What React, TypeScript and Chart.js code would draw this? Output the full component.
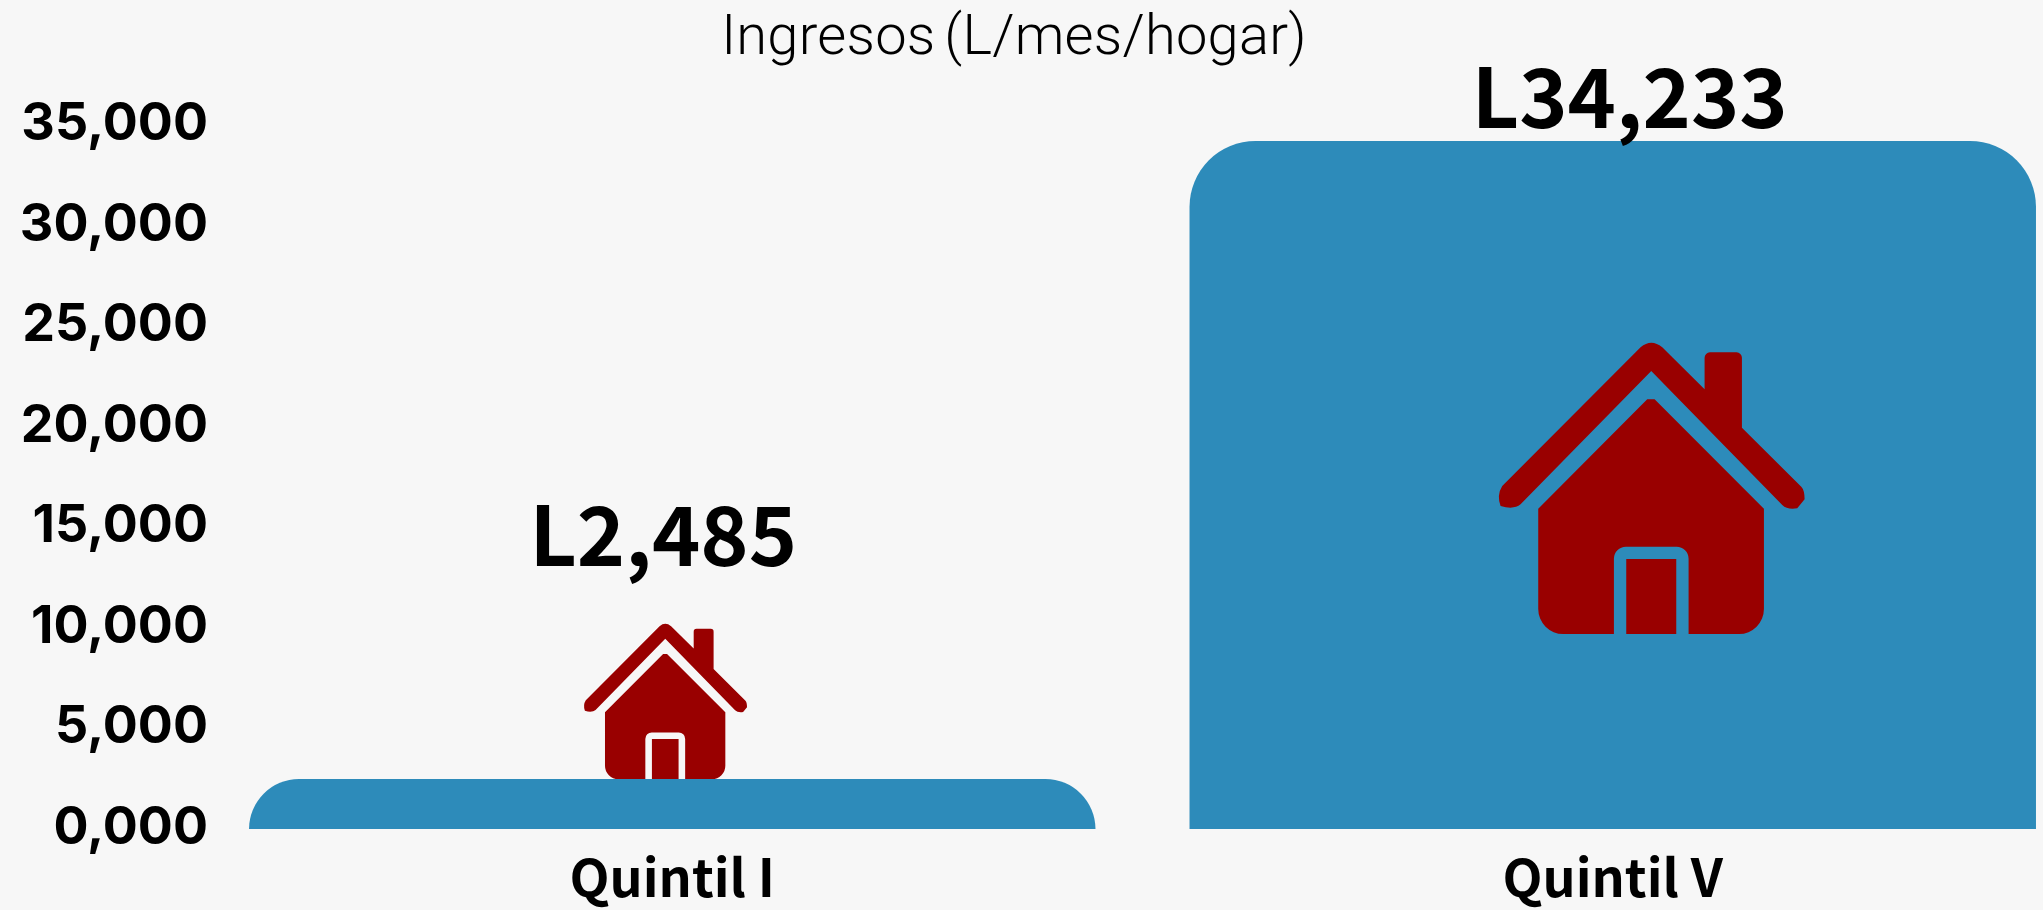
import React, { useEffect, useRef } from "react";
import { Chart, registerables } from "chart.js";

Chart.register(...registerables);

const categories = ["Quintil I", "Quintil V"];
const incomes = [2485, 34233];
const valueLabels = ["L2,485", "L34,233"];
const tickValues = [0, 5000, 10000, 15000, 20000, 25000, 30000, 35000];
const tickLabels = ["0,000", "5,000", "10,000", "15,000", "20,000", "25,000", "30,000", "35,000"];
const chartTitle = "Ingresos (L/mes/hogar)";

const BG = "#f7f7f7";
const BLUE = "#2d8bba";
const RED = "#990000";
const LABEL_FONT = '"Noto Sans CJK SC", "Noto Sans", sans-serif';

// house shape in its own design units, origin at the centre of the bottom edge
const HOUSE_W = 917;
const HOUSE_BOTTOM = 942;
const HOUSE_CX = 602;
const housePath =
  "M570 82Q602 55 635 82L762 208L762 113A16 16 0 0 1 778 97L858 97A16 16 0 0 1 874 113L874 323L1052 500Q1062 510 1062 538L1040 565Q1010 570 995 555L602 153L210 553Q190 570 150 558Q138 525 155 498Z" +
  "M590 238L612 238L940 566L940 867A75 75 0 0 1 865 942L714 942L714 716A36 36 0 0 0 678 680L526 680A36 36 0 0 0 490 716L490 942L338 942A75 75 0 0 1 263 867L263 566Z" +
  "M527 717L677 717L677 942L527 942Z";

const houseWidths = [163, 305.7];
const houseOffsetX = [-7, 38.5];
const houseBaseValue = [2485, 9700];
const labelOffsetX = [-9, 17];
const labelBaselineAbove = [213, 13];
const cornerRadius = 66;

const App = () => {
  const ref = useRef<HTMLCanvasElement>(null);

  useEffect(() => {
    document.body.style.margin = "0";
    document.body.style.background = BG;
    document.body.style.overflow = "hidden";

    const decorations = {
      id: "decorations",
      beforeDatasetDraw(chart: any, args: any) {
        const { ctx } = chart;
        ctx.save();
        ctx.fillStyle = BLUE;
        args.meta.data.forEach((el: any) => {
          const p = el.getProps(["x", "y", "base", "width"], true);
          const h = p.base - p.y;
          const r = Math.min(cornerRadius, h);
          ctx.beginPath();
          ctx.roundRect(p.x - p.width / 2, p.y, p.width, h, [r, r, 0, 0]);
          ctx.fill();
        });
        ctx.restore();
        return false;
      },
      afterDraw(chart: any) {
        const { ctx, scales } = chart;
        const meta = chart.getDatasetMeta(0);
        ctx.save();
        meta.data.forEach((el: any, i: number) => {
          const p = el.getProps(["x", "y"], true);
          const s = houseWidths[i] / HOUSE_W;
          ctx.save();
          ctx.translate(p.x + houseOffsetX[i], scales.y.getPixelForValue(houseBaseValue[i]));
          ctx.scale(s, s);
          ctx.translate(-HOUSE_CX, -HOUSE_BOTTOM);
          ctx.fillStyle = RED;
          ctx.fill(new Path2D(housePath));
          ctx.restore();

          ctx.fillStyle = "#000";
          ctx.textAlign = "center";
          ctx.textBaseline = "alphabetic";
          ctx.font = `700 82px ${LABEL_FONT}`;
          ctx.fillText(valueLabels[i], p.x + labelOffsetX[i], p.y - labelBaselineAbove[i]);
        });
        ctx.fillStyle = "#000";
        ctx.textAlign = "center";
        ctx.textBaseline = "alphabetic";
        ctx.font = `300 56px Roboto, sans-serif`;
        ctx.wordSpacing = "-5px";
        ctx.letterSpacing = "0.25px";
        ctx.fillText(chartTitle, 1014, 54);
        ctx.restore();
      },
    };

    const chart = new Chart(ref.current!, {
      type: "bar",
      data: {
        labels: categories,
        datasets: [
          {
            data: incomes,
            backgroundColor: BLUE,
            categoryPercentage: 0.9,
            barPercentage: 1,
          },
        ],
      },
      plugins: [decorations],
      options: {
        animation: false,
        responsive: false,
        layout: { padding: { top: 125.5, left: 0, right: 0, bottom: 0 } },
        plugins: { legend: { display: false }, tooltip: { enabled: false } },
        scales: {
          x: {
            grid: { display: false, drawTicks: false },
            border: { display: false },
            afterFit(scale: any) {
              scale.height = 81;
            },
            ticks: {
              color: "#000",
              padding: 17,
              font: { family: "Noto Sans CJK SC", size: 52, weight: "700" },
              maxRotation: 0,
            },
          },
          y: {
            min: 0,
            max: 35000,
            grid: { display: false, drawTicks: false },
            border: { display: false },
            afterFit(scale: any) {
              scale.width = 202;
              scale._computeLabelArea = () => undefined;
            },
            afterBuildTicks(scale: any) {
              scale.ticks = tickValues.map((value) => ({ value }));
            },
            ticks: {
              color: "#000",
              padding: -6,
              labelOffset: -1,
              font: { family: "Inter", size: 52, weight: "700" },
              callback: (v: any) => tickLabels[tickValues.indexOf(Number(v))],
            },
          },
        },
      },
    } as any);
    return () => chart.destroy();
  }, []);

  return (
    <div style={{ width: 2043, height: 910, overflow: "hidden", background: BG }}>
      <canvas ref={ref} width={2083} height={910} style={{ display: "block" }} />
    </div>
  );
};

export default App;
